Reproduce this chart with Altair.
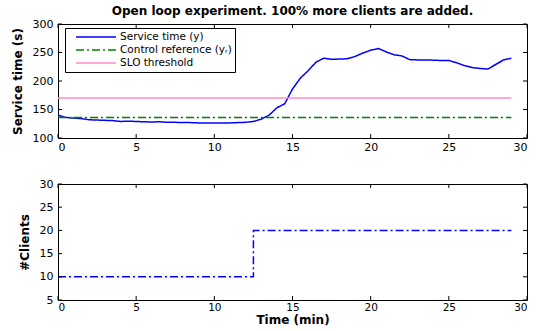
import altair as alt
import pandas as pd

# ---- data ----
time_min = [0, 0.5, 1, 1.5, 2, 2.5, 3, 3.5, 4, 4.5, 5, 5.5, 6, 6.5, 7, 7.5, 8, 8.5, 9, 9.5,
            10, 10.5, 11, 11.5, 12, 12.5, 13, 13.5, 14, 14.5, 15, 15.5, 16, 16.5, 17, 17.5,
            18, 18.5, 19, 19.5, 20, 20.5, 21, 21.5, 22, 22.5, 23, 23.5, 24, 24.5, 25, 25.5,
            26, 26.5, 27, 27.5, 28, 28.5, 29]
service_time = [140, 136, 135, 134, 132, 131.5, 131, 130.5, 129, 129.5, 129, 128.5, 128, 128.5,
                127.5, 127.5, 127, 127, 126.5, 126.5, 126.5, 126.5, 126.5, 127, 127.5, 129, 133,
                140, 153, 160, 186, 205, 218, 233, 240, 238, 238.5, 239, 243, 249, 254, 257, 251,
                246, 244, 237.5, 237, 237, 236.5, 236, 236, 232, 227, 223.5, 222, 221, 229, 237, 240]
ref_time = [0, 29]
control_ref = [136, 136]
slo_threshold = [170, 170]

clients_time = [0, 12.5, 29]
clients = [10, 20, 20]

series_names = ["Service time (y)", "Control reference (yᵣ)", "SLO threshold"]
series_colors = ["#0000FF", "#008000", "#FF8CC8"]
series_dash = [[1, 0], [8, 3, 2, 3], [1, 0]]

x_ticks = [0, 5, 10, 15, 20, 25, 30]
y1_ticks = [100, 150, 200, 250, 300]
y2_ticks = [5, 10, 15, 20, 25, 30]

title_text = "Open loop experiment. 100% more clients are added."

# ---- tables ----
rows = []
for t, v in zip(time_min, service_time):
    rows.append({"t": t, "v": v, "series": series_names[0]})
for t, v in zip(ref_time, control_ref):
    rows.append({"t": t, "v": v, "series": series_names[1]})
for t, v in zip(ref_time, slo_threshold):
    rows.append({"t": t, "v": v, "series": series_names[2]})
df_top = pd.DataFrame(rows)
df_bot = pd.DataFrame({"t": clients_time, "c": clients})
df_xt = pd.DataFrame({"t": x_ticks})
df_y1t = pd.DataFrame({"v": y1_ticks})
df_y2t = pd.DataFrame({"c": y2_ticks})

W = 469
H1 = 114
H2 = 116
TICK = 4
FONT = "DejaVu Sans"

xscale = alt.Scale(domain=[0, 30], nice=False)
x1axis = alt.Axis(values=x_ticks, title=None, ticks=False, domain=False, grid=False,
                  labelFontSize=11, labelPadding=3)
x2axis = alt.Axis(values=x_ticks, title="Time (min)", ticks=False, domain=False, grid=False,
                  labelFontSize=10.5, labelPadding=2, titleFontSize=12, titlePadding=2)
y1scale = alt.Scale(domain=[100, 300], nice=False)
y1axis = alt.Axis(values=y1_ticks, title="Service time (s)", ticks=False, domain=False,
                  grid=False, labelFontSize=11, labelPadding=5, titleFontSize=12, titlePadding=8)
y2scale = alt.Scale(domain=[5, 30], nice=False)
y2axis = alt.Axis(values=y2_ticks, title="#Clients", ticks=False, domain=False, grid=False,
                  labelFontSize=11, labelPadding=5, titleFontSize=12, titlePadding=8)

legend = alt.Legend(orient="none", legendX=7, legendY=4, title=None,
                    strokeColor="black", fillColor="white", padding=3,
                    symbolType="M-4,0H4", symbolSize=100, symbolStrokeWidth=1.5,
                    symbolOffset=22, labelFontSize=10.5, labelFont=FONT, labelOffset=18,
                    rowPadding=1, cornerRadius=0, labelColor="black")


def tick_layers(df_x, df_y, yfield, yscale, xaxis, yaxis, h):
    bx = alt.Chart(df_x).mark_rule(color="black", strokeWidth=1).encode(
        x=alt.X("t:Q", scale=xscale, axis=xaxis), y=alt.value(h), y2=alt.value(h - TICK))
    tx = alt.Chart(df_x).mark_rule(color="black", strokeWidth=1).encode(
        x=alt.X("t:Q", scale=xscale, axis=xaxis), y=alt.value(0), y2=alt.value(TICK))
    ly = alt.Chart(df_y).mark_rule(color="black", strokeWidth=1).encode(
        y=alt.Y(f"{yfield}:Q", scale=yscale, axis=yaxis), x=alt.value(0), x2=alt.value(TICK))
    ry = alt.Chart(df_y).mark_rule(color="black", strokeWidth=1).encode(
        y=alt.Y(f"{yfield}:Q", scale=yscale, axis=yaxis), x=alt.value(W), x2=alt.value(W - TICK))
    return [bx, tx, ly, ry]


top_lines = alt.Chart(df_top).mark_line(strokeWidth=1.5).encode(
    x=alt.X("t:Q", scale=xscale, axis=x1axis),
    y=alt.Y("v:Q", scale=y1scale, axis=y1axis),
    color=alt.Color("series:N", scale=alt.Scale(domain=series_names, range=series_colors),
                    sort=series_names, legend=legend),
    strokeDash=alt.StrokeDash("series:N", scale=alt.Scale(domain=series_names, range=series_dash),
                              sort=series_names, legend=legend),
)
top = alt.layer(top_lines, *tick_layers(df_xt, df_y1t, "v", y1scale, x1axis, y1axis, H1)).properties(
    width=W, height=H1,
    title=alt.TitleParams(title_text, fontSize=12, font=FONT, fontWeight="bold",
                          anchor="middle", offset=0, color="black"))

bot_line = alt.Chart(df_bot).mark_line(color="#0000FF", strokeWidth=1.5, strokeDash=[8, 3, 2, 3],
                                       interpolate="step-after").encode(
    x=alt.X("t:Q", scale=xscale, axis=x2axis),
    y=alt.Y("c:Q", scale=y2scale, axis=y2axis),
)
bottom = alt.layer(bot_line, *tick_layers(df_xt, df_y2t, "c", y2scale, x2axis, y2axis, H2)).properties(
    width=W, height=H2)

chart = alt.vconcat(top, bottom, spacing=24).configure_view(
    stroke="black", strokeWidth=1).configure_axis(
    labelFont=FONT, titleFont=FONT, labelColor="black", titleColor="black",
    titleFontWeight="bold").properties(
    padding={"left": 10, "top": 4, "right": 0, "bottom": 0}, background="white")

chart.save("out.html", embed_options={"renderer": "svg", "actions": False})
